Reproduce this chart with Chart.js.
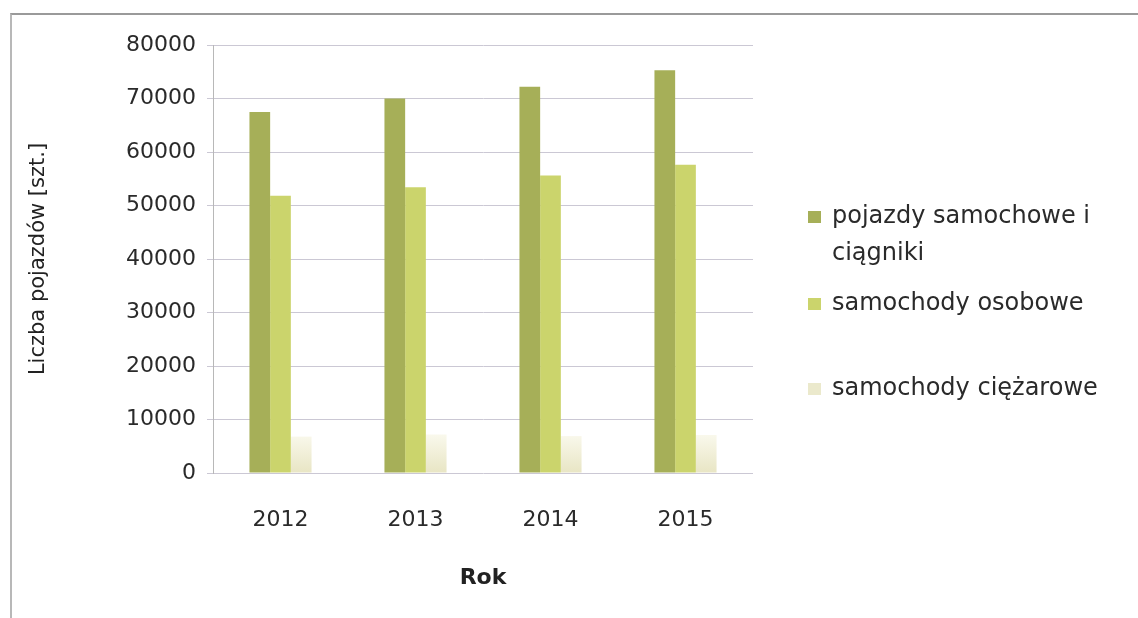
<!DOCTYPE html>
<html>
<head>
<meta charset="utf-8">
<script src="https://cdn.jsdelivr.net/npm/chart.js@4"></script>
<style>
  html, body { margin: 0; padding: 0; background: #fff; }
  #wrap { position: relative; width: 1138px; height: 618px; }
  #frame {
    position: absolute; left: 10px; top: 13px; right: 0; bottom: 0;
    border-top: 2px solid #9a9a9a; border-left: 2px solid #b8b8b8;
  }
  canvas { position: absolute; left: 0; top: 0; }
</style>
</head>
<body>
<div id="wrap">
  <div id="frame"></div>
  <canvas id="chart" width="1138" height="618"></canvas>
</div>
<script>
const years = ["2012", "2013", "2014", "2015"];
const seriesNames = [
  ["pojazdy samochowe i", "ciągniki"],
  ["samochody osobowe"],
  ["samochody ciężarowe"],
];
const motorVehicles = [67500, 70000, 72200, 75300];
const passengerCars = [51800, 53400, 55600, 57600];
const trucks = [6800, 7200, 6900, 7100];
const yTicks = [0, 10000, 20000, 30000, 40000, 50000, 60000, 70000, 80000];

const colors = ["#a6af58", "#cbd46c", "#ebe9cc"];
const fontFamily = "'DejaVu Sans', sans-serif";
const textColor = "#2a2a2a";

// trucks fade to white towards the top of the bar
const truckFill = (ctx) => {
  const area = ctx.chart.chartArea;
  if (!area) return colors[2];
  const g = ctx.chart.ctx.createLinearGradient(0, area.bottom, 0, area.bottom - 42);
  g.addColorStop(0, "#e8e5c4");
  g.addColorStop(1, "#fbfaf0");
  return g;
};

// legend drawn by hand so the wrapped first label and the gaps match
const sideLegend = {
  id: "sideLegend",
  afterDraw(chart) {
    const ctx = chart.ctx;
    const rows = [217, 304, 389];
    ctx.save();
    ctx.font = "24px " + fontFamily;
    ctx.textBaseline = "middle";
    chart.data.datasets.forEach((ds, i) => {
      const y = rows[i];
      ctx.fillStyle = colors[i];
      ctx.fillRect(808, y - 6, 13, 12);
      ctx.fillStyle = textColor;
      ds.label.forEach((line, j) => {
        ctx.fillText(line, 832, y + j * 37);
      });
    });
    ctx.restore();
  },
};

new Chart(document.getElementById("chart"), {
  type: "bar",
  data: {
    labels: years,
    datasets: [
      { label: seriesNames[0], data: motorVehicles, backgroundColor: colors[0] },
      { label: seriesNames[1], data: passengerCars, backgroundColor: colors[1] },
      { label: seriesNames[2], data: trucks, backgroundColor: truckFill },
    ],
  },
  options: {
    responsive: false,
    animation: false,
    layout: { padding: { top: 45, right: 385, bottom: 0, left: 0 } },
    datasets: { bar: { categoryPercentage: 0.46, barPercentage: 1.0 } },
    plugins: { legend: { display: false }, tooltip: { enabled: false } },
    scales: {
      x: {
        grid: { display: false, drawTicks: false },
        border: { display: false },
        ticks: { color: textColor, font: { family: fontFamily, size: 22 }, padding: 34 },
        title: {
          display: true,
          text: "Rok",
          color: "#222",
          font: { family: fontFamily, size: 22, weight: "bold" },
          padding: { top: 0, bottom: 27 },
        },
        afterFit(scale) { scale.height = 145; },
      },
      y: {
        min: 0,
        max: 80000,
        afterBuildTicks(scale) { scale.ticks = yTicks.map((v) => ({ value: v })); },
        grid: { color: "#cbc8d4", lineWidth: 1, tickLength: 6 },
        border: { display: true, color: "#b8b8b8" },
        ticks: {
          color: textColor,
          font: { family: fontFamily, size: 22 },
          padding: 11,
          callback: (v) => String(v),
        },
        title: {
          display: true,
          text: "Liczba pojazdów [szt.]",
          color: "#222",
          font: { family: fontFamily, size: 21 },
          padding: { top: 26, bottom: 0 },
        },
        afterFit(scale) { scale.width = 213; },
      },
    },
  },
  plugins: [sideLegend],
});
</script>
</body>
</html>
